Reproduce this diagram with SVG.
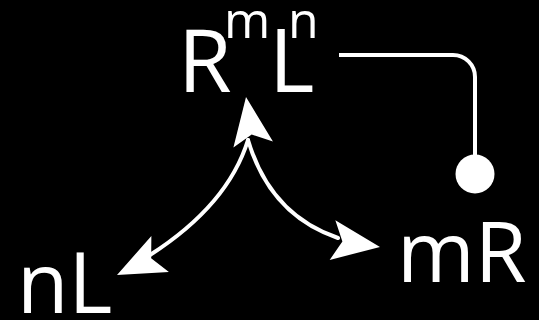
<svg xmlns="http://www.w3.org/2000/svg" width="539" height="320" viewBox="0 0 539 320">
  <defs>
    <style>
      .lbl { font-family: "Open Sans", "Noto Sans", "DejaVu Sans", sans-serif; fill: #ffffff; }
      .big { font-size: 84px; }
      .main { font-size: 87px; }
      .sup { font-size: 50px; }
      .wire { fill: none; stroke: #ffffff; stroke-width: 4; }
      .head { fill: #ffffff; }
    </style>
    <path id="arrowhead" class="head" d="M0,0 L-48,-20 L-38,0 L-48,20 Z"/>
  </defs>
  <rect width="539" height="320" fill="#000000"/>

  <g id="complex">
    <text class="lbl"><tspan class="main" x="178" y="92">R</tspan><tspan class="sup" x="224" y="38">m</tspan><tspan class="main" x="269" y="92">L</tspan><tspan class="sup" x="288" y="38">n</tspan></text>
  </g>

  <g id="nL">
    <text class="lbl big" x="17" y="313">nL</text>
  </g>

  <g id="mR">
    <text class="lbl big" x="397" y="282">mR</text>
  </g>

  <g id="connectors">
    <path class="wire" stroke-linecap="round" d="M248,140 Q228,205 150,255"/>
    <path class="wire" stroke-linecap="round" d="M248,140 Q270,215 338,238"/>
    <use href="#arrowhead" transform="translate(246,97) rotate(-98.6)"/>
    <use href="#arrowhead" transform="translate(117,275) rotate(154)"/>
    <use href="#arrowhead" transform="translate(380,247) rotate(8.2)"/>
    <path class="wire" d="M339,55 H453 A22,22 0 0 1 475,77 V160"/>
    <circle cx="475" cy="174" r="19.5" fill="#ffffff"/>
  </g>
</svg>
